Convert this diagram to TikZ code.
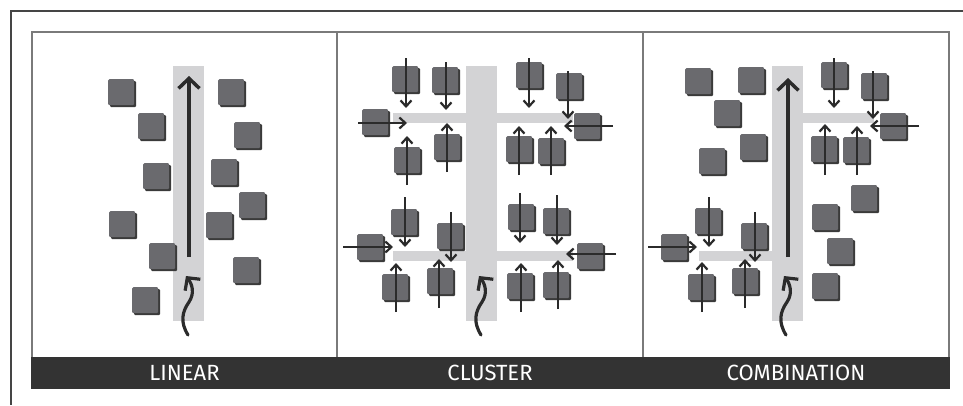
\documentclass[tikz,border=0pt]{standalone}
\usepackage{fontspec}
\newfontfamily\labelfont{Fira Sans}
\usetikzlibrary{arrows.meta,shadows}

\definecolor{framegray}{HTML}{7A7A7A}
\definecolor{outerline}{HTML}{454545}
\definecolor{barblack}{HTML}{333333}
\definecolor{roadgray}{HTML}{D3D3D5}
\definecolor{blockgray}{HTML}{6A6A6E}
\definecolor{blockshade}{HTML}{3A3A3A}
\definecolor{inkdark}{HTML}{2B2B2B}

\tikzset{
  block/.style={anchor=north west, minimum size=26pt, inner sep=0pt,
    fill=blockgray, rounded corners=1.2pt,
    general shadow={fill=blockshade, shadow xshift=2pt, shadow yshift=-2pt}},
  road/.style={fill=roadgray, draw=none},
  mainflow/.style={draw=inkdark, line width=3.5pt,
    -{Straight Barb[length=10pt,width=21pt]}},
  feeder/.style={draw=inkdark, line width=2.2pt,
    -{Straight Barb[length=6pt,width=11pt]}},
  entry/.style={draw=inkdark, line width=3.2pt, line cap=round,
    -{Straight Barb[length=9pt,width=19pt]}},
  panelline/.style={draw=framegray, line width=1.4pt},
  caption/.style={text=white, font=\labelfont\fontsize{22}{24}\selectfont,
    anchor=center, inner sep=0pt},
  % wavy entry arrow, drawn upward from its start point
  pics/wiggle/.style={code={
    \draw[entry] (0,0) .. controls (-8,-13) and (-6,-23) .. (1,-33)
                       .. controls (7,-42) and (4,-51) .. (-2,-59);
  }}
}

\begin{document}
\begin{tikzpicture}[x=1pt, y=-1pt]
  \useasboundingbox (0,0) rectangle (963,405);

  % outer page frame (top and left edges)
  \draw[draw=outerline, line width=2pt] (963,11) -- (11,11) -- (11,405);

  % panel frames and caption bar
  \draw[panelline] (32,357) -- (32,32) -- (949,32) -- (949,357);
  \draw[panelline] (337,32) -- (337,357);
  \draw[panelline] (643,32) -- (643,357);
  \fill[barblack] (31.3,356.5) rectangle (949.7,389);

  \node[caption] (capLinear) at (184.5,373) {LINEAR};
  \node[caption] (capCluster) at (490,373) {CLUSTER};
  \node[caption] (capCombo) at (796,373) {COMBINATION};

  % ---------- LINEAR ----------
  \fill[road] (173,66) rectangle (204,321);
  \foreach \x/\y [count=\i] in {108/79,138/113,143/163,218/79,234/122,211/159,
      239/192,109/211,206/212,149/243,233/257,132/287}
    \node[block] (lin\i) at (\x,\y) {};
  \coordinate (linStart) at (189,257);
  \coordinate (linEnd) at (189,76);
  \draw[mainflow] (linStart) -- (linEnd);
  \pic at (188,335) {wiggle};

  % ---------- CLUSTER ----------
  \fill[road] (466,66) rectangle (497,321);
  \fill[road] (393,113) rectangle (573,123);
  \fill[road] (393,251) rectangle (573,261);
  \foreach \x/\y [count=\i] in {392/66,432/67,516/62,556/73,362/109,574/113,
      394/147,434/134,506/136,538/138,
      391/209,437/223,508/204,543/208,357/234,577/243,
      382/274,427/268,507/273,543/272}
    \node[block] (clu\i) at (\x,\y) {};
  % feeders of the upper and lower clusters
  \foreach \xa/\ya/\xb/\yb in {406/58/406/108, 446/62/446/110, 529/58/529/108,
      568/71/568/119, 358/123/407/123, 613/126/564/126,
      407/185/407/136, 447/172/447/123, 519/175/519/126, 551/175/551/126,
      405/197/405/247, 451/212/451/262, 520/193/520/243, 557/195/557/245,
      343/247/393/247, 616/254/566/254,
      396/312/396/263, 439/308/439/259, 521/312/521/263, 558/309/558/260}
    \draw[feeder] (\xa,\ya) -- (\xb,\yb);
  \pic at (481,335) {wiggle};

  % ---------- COMBINATION ----------
  \fill[road] (772,66) rectangle (803,321);
  \fill[road] (803,113) rectangle (874,123);
  \fill[road] (699,251) rectangle (772,261);
  \foreach \x/\y [count=\i] in {685/68,738/67,714/100,740/134,699/148,
      821/62,861/73,880/113,811/136,843/137,
      851/185,812/204,827/238,812/273,
      695/208,741/223,661/234,688/274,732/268}
    \node[block] (com\i) at (\x,\y) {};
  \coordinate (comStart) at (788,257);
  \coordinate (comEnd) at (788,78);
  \draw[mainflow] (comStart) -- (comEnd);
  \foreach \xa/\ya/\xb/\yb in {834/58/834/108, 873/71/873/119, 919/126/870/126,
      825/175/825/124, 857/175/857/126,
      709/197/709/247, 755/212/755/262, 648/247/697/247,
      702/312/702/262, 745/308/745/259}
    \draw[feeder] (\xa,\ya) -- (\xb,\yb);
  \pic at (786,335) {wiggle};
\end{tikzpicture}
\end{document}
